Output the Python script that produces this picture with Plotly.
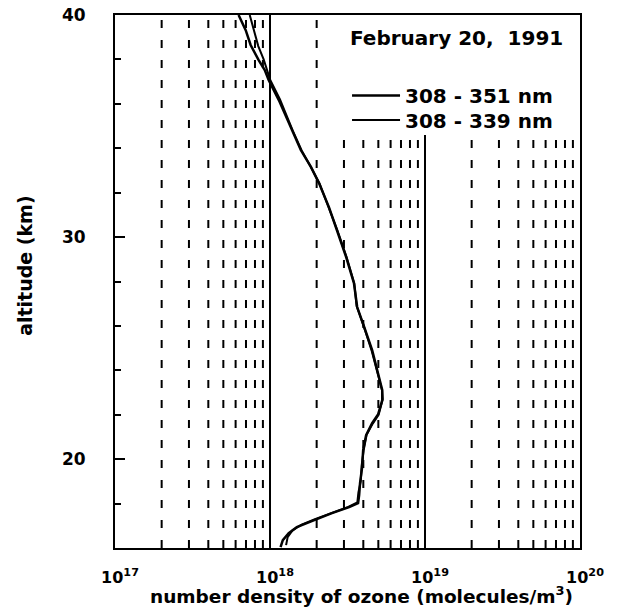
import plotly.graph_objects as go

# ---- data ----
alt_351 = [16.04, 16.35, 16.67, 16.94, 17.21, 17.57, 17.84, 18.02, 18.38, 18.92, 19.64, 20.41,
           21.08, 21.62, 22.03, 22.66, 23.11, 23.69, 24.91, 25.95, 26.85, 27.93, 29.10, 30.32,
           31.35, 32.43, 33.15, 33.92, 34.82, 36.17, 37.07, 37.52, 37.97, 38.65, 39.32, 40.0]
dens_351 = [1.17e18, 1.21e18, 1.32e18, 1.49e18, 1.86e18, 2.51e18, 3.24e18, 3.70e18, 3.76e18,
            3.81e18, 3.93e18, 3.99e18, 4.17e18, 4.56e18, 4.99e18, 5.30e18, 5.30e18, 5.06e18,
            4.56e18, 4.05e18, 3.65e18, 3.48e18, 3.10e18, 2.70e18, 2.40e18, 2.07e18, 1.84e18,
            1.58e18, 1.38e18, 1.14e18, 9.8e17, 9.25e17, 8.45e17, 7.50e17, 6.97e17, 6.27e17]

alt_339 = [16.13, 16.49, 16.80, 17.05, 17.30, 17.60, 17.85, 18.05, 18.50, 19.00, 19.70, 20.40,
           21.10, 21.60, 22.00, 22.70, 23.10, 23.70, 24.90, 26.00, 26.90, 27.90, 29.10, 30.30,
           31.40, 32.40, 33.20, 33.90, 34.80, 36.20, 37.10, 37.50, 38.00, 38.60, 39.30, 40.0]
dens_339 = [1.27e18, 1.30e18, 1.40e18, 1.60e18, 1.95e18, 2.55e18, 3.20e18, 3.66e18, 3.72e18,
            3.85e18, 3.90e18, 4.02e18, 4.20e18, 4.60e18, 5.02e18, 5.34e18, 5.28e18, 5.02e18,
            4.52e18, 4.02e18, 3.62e18, 3.50e18, 3.12e18, 2.72e18, 2.38e18, 2.09e18, 1.82e18,
            1.60e18, 1.40e18, 1.16e18, 1.00e18, 9.6e17, 9.1e17, 8.4e17, 7.9e17, 7.4e17]

# vertical guide lines (x position, top altitude)
dashed_x = [2e17, 3e17, 4e17, 5e17, 6e17, 7e17, 8e17, 9e17,
            2e18, 3e18, 4e18, 5e18, 6e18, 7e18, 8e18, 9e18,
            2e19, 3e19, 4e19, 5e19, 6e19, 7e19, 8e19, 9e19]
dashed_top = [40, 40, 40, 40, 40, 40, 40, 40,
              40, 34.6, 34.6, 34.6, 34.6, 34.6, 34.6, 34.6,
              34.6, 34.6, 34.6, 34.6, 34.6, 34.6, 34.6, 34.6]
solid_x = [1e18, 1e19]
solid_top = [40, 34.6]
alt_bottom = 16

x_tickvals = [1e17, 1e18, 1e19, 1e20]
x_ticktext = ["10<sup>17</sup>", "10<sup>18</sup>", "10<sup>19</sup>", "10<sup>20</sup>"]
y_tickvals = [20, 30, 40]
y_ticktext = ["20", "30", "40"]

FONT = "DejaVu Sans"

def segs(xs, tops):
    X, Y = [], []
    for xv, t in zip(xs, tops):
        X += [xv, xv, None]
        Y += [alt_bottom, t, None]
    return X, Y

fig = go.Figure()
dx, dy = segs(dashed_x, dashed_top)
fig.add_trace(go.Scatter(x=dx, y=dy, mode="lines", showlegend=False, hoverinfo="skip",
                         line=dict(color="black", width=2, dash="8px,12px")))
sx, sy = segs(solid_x, solid_top)
fig.add_trace(go.Scatter(x=sx, y=sy, mode="lines", showlegend=False, hoverinfo="skip",
                         line=dict(color="black", width=2)))

fig.add_trace(go.Scatter(x=dens_351, y=alt_351, mode="lines", name="308 - 351 nm",
                         legend="legend", line=dict(color="black", width=2.5)))
fig.add_trace(go.Scatter(x=dens_339, y=alt_339, mode="lines", name="308 - 339 nm",
                         legend="legend2", line=dict(color="black", width=2)))

leg_font = dict(family=FONT, size=20, color="black", weight="bold")
fig.update_layout(
    width=618, height=611,
    margin=dict(l=115, r=38, t=15, b=63, autoexpand=False),
    paper_bgcolor="white", plot_bgcolor="white",
    font=dict(family=FONT, color="black"),
    showlegend=True,
    legend=dict(x=0.499, y=0.849, xanchor="left", yanchor="middle",
                bgcolor="rgba(0,0,0,0)", borderwidth=0, itemwidth=48, font=leg_font),
    legend2=dict(x=0.499, y=0.803, xanchor="left", yanchor="middle",
                 bgcolor="rgba(0,0,0,0)", borderwidth=0, itemwidth=48, font=leg_font),
    xaxis=dict(type="log", range=[17, 20], showgrid=False, zeroline=False, automargin=False,
               showline=True, mirror=True, linecolor="black", linewidth=2,
               tickvals=x_tickvals, ticktext=x_ticktext, ticks="",
               ticklabelstandoff=14, ticklabelshift=5,
               tickfont=dict(family=FONT, size=16, weight="bold")),
    yaxis=dict(range=[16, 40], showgrid=False, zeroline=False, automargin=False,
               showline=True, mirror=True, linecolor="black", linewidth=2,
               tickvals=y_tickvals, ticktext=y_ticktext, ticks="inside",
               ticklen=10, tickwidth=2, tickcolor="black",
               ticklabelstandoff=24,
               minor=dict(dtick=2, tick0=0, ticks="inside", ticklen=6, tickwidth=2,
                          tickcolor="black", showgrid=False),
               tickfont=dict(family=FONT, size=17, weight="bold")),
)

fig.add_annotation(text="February 20,\u00a0 1991", xref="paper", yref="paper",
                   x=0.735, y=0.957, xanchor="center", yanchor="middle", showarrow=False,
                   font=dict(family=FONT, size=20, weight="bold"))
fig.add_annotation(text="number density of ozone (molecules/m<sup>3</sup>)", xref="paper",
                   yref="paper", x=0.531, y=-0.088, xanchor="center", yanchor="middle",
                   showarrow=False, font=dict(family=FONT, size=18.5, weight="bold"))
fig.add_annotation(text="altitude (km)", xref="paper", yref="paper", textangle=-90,
                   x=-0.195, y=0.53, xanchor="center", yanchor="middle", showarrow=False,
                   font=dict(family=FONT, size=19, weight="bold"))

fig.write_html("out.html", config={"displayModeBar": False},
               post_script="document.body.style.margin='0';")
